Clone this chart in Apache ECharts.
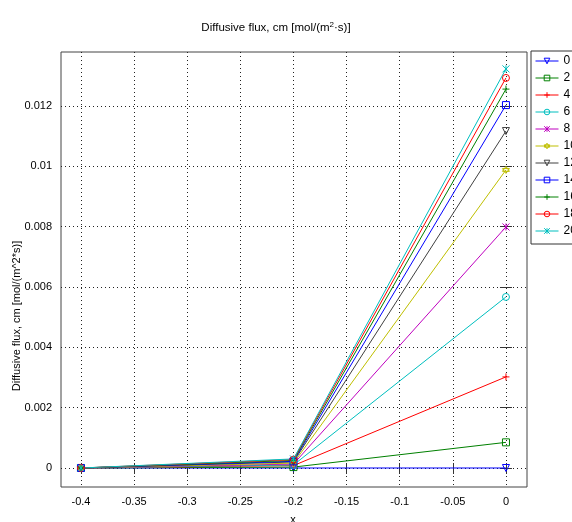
<!DOCTYPE html>
<html><head><meta charset="utf-8">
<script src="https://cdn.jsdelivr.net/npm/echarts@6/dist/echarts.min.js"></script>
<style>html,body{margin:0;padding:0;background:#fff}#c{width:572px;height:522px}</style>
</head><body><div id="c"></div>
<script>
const xValues = [-0.4, -0.2, 0];
const seriesNames = ['0','2','4','6','8','10','12','14','16','18','20'];
const valuesAtMinus04 = [0,0,0,0,0,0,0,0,0,0,0];
const valuesAtMinus02 = [0, 0.00003, 0.00008, 0.0001, 0.00013, 0.00016, 0.0002, 0.00022, 0.00025, 0.00028, 0.0003];
const valuesAt0 = [0, 0.00085, 0.00302, 0.00567, 0.00799, 0.00988, 0.01117, 0.01203, 0.01256, 0.01293, 0.01323];
const xTicks = [-0.4,-0.35,-0.3,-0.25,-0.2,-0.15,-0.1,-0.05,0];
const yTicks = [0,0.002,0.004,0.006,0.008,0.01,0.012];

const colors = ['#0000ff','#008000','#ff0000','#00bfbf','#bf00bf','#bfbf00','#404040','#0000ff','#008000','#ff0000','#00bfbf'];
const TRI = 'path://M0,0L10,0L5,9Z';
const RECT = 'path://M0,0L10,0L10,10L0,10Z';
const CIRC = 'path://M10,5A5,5,0,1,1,0,5A5,5,0,1,1,10,5Z';
const PLUS = 'path://M5,0L5,10M0,5L10,5';
const STAR = 'path://M0,0L10,10M0,10L10,0M5,0L5,10';
const HEX = 'path://M5,0L9,7L1,7ZM5,10L1,3L9,3Z';
const symbols = [TRI, RECT, PLUS, CIRC, STAR, HEX, TRI, RECT, PLUS, CIRC, STAR];
const FONT = 'Liberation Sans';
const chart = echarts.init(document.getElementById('c'));
const series = seriesNames.map((n,i)=>({
  name: n, type: 'line',
  data: [[xValues[0], valuesAtMinus04[i]],[xValues[1], valuesAtMinus02[i]],[xValues[2], valuesAt0[i]]],
  symbol: symbols[i], symbolSize: 7,
  showAllSymbol: true,
  lineStyle: {color: colors[i], width: 1},
  itemStyle: {color: 'none', borderColor: colors[i], borderWidth: 1},
  emphasis: {disabled: true},
  z: 3
}));
const option = {
  animation: false,
  color: colors,
  textStyle: {fontFamily: FONT},
  title: {
    text: 'Diffusive flux, cm [mol/(m{sup|2}·s)]',
    left: 271, top: 16, textAlign: 'center',
    textStyle: {fontSize: 11.5, fontWeight: 'normal', color: '#000', fontFamily: FONT,
      rich: {sup: {fontSize: 8, verticalAlign: 'bottom', padding: [0,0,6,0], color:'#000', fontFamily: FONT}}}
  },
  legend: {
    orient: 'vertical', left: 531, top: 51,
    itemWidth: 23, itemHeight: 7, itemGap: 5,
    padding: [4, 40, 7, 4],
    backgroundColor: '#fff', borderColor: '#333', borderWidth: 1,
    lineStyle: {width: 1},
    itemStyle: {borderWidth: 1},
    textStyle: {fontSize: 12, lineHeight: 12, color: '#000', fontFamily: FONT},
    data: seriesNames
  },
  grid: {left: 61, right: 45, top: 52, bottom: 35, show: true, borderColor: '#444', borderWidth: 1, backgroundColor: '#fff'},
  xAxis: [{
    type: 'value', min: -0.4188, max: 0.0198,
    axisLine: {show: false},
    axisTick: {inside: true, length: 5, lineStyle: {color: '#333'}, customValues: xTicks},
    axisLabel: {customValues: xTicks, color: '#000', fontSize: 11, fontFamily: FONT, margin: 9},
    splitLine: {show: true, lineStyle: {type: [1,3], color: '#222'}}
  },{
    type: 'value', min: -0.4188, max: 0.0198, position: 'top',
    axisLine: {show: false},
    axisTick: {inside: true, length: 6, lineStyle: {color: '#333'}, customValues: xTicks},
    axisLabel: {show: false, customValues: xTicks},
    splitLine: {show: false}
  }],
  yAxis: [{
    type: 'value', min: -0.00063, max: 0.01379,
    axisLine: {show: false},
    axisTick: {inside: true, length: 6, lineStyle: {color: '#333'}, customValues: yTicks},
    axisLabel: {customValues: yTicks, color: '#000', fontSize: 11, fontFamily: FONT, margin: 9},
    splitLine: {show: true, lineStyle: {type: [1,3], color: '#222'}}
  },{
    type: 'value', min: -0.00063, max: 0.01379, position: 'right',
    axisLine: {show: false},
    axisTick: {inside: true, length: 6, lineStyle: {color: '#333'}, customValues: yTicks},
    axisLabel: {show: false, customValues: yTicks},
    splitLine: {show: false}
  }],
  graphic: [
    {type: 'text', x: 17, y: 316, rotation: Math.PI/2,
     style: {text: 'Diffusive flux, cm [mol/(m^2*s)]', fontSize: 11, fontFamily: FONT, fill: '#000', align: 'center', verticalAlign: 'middle'}},
    {type: 'text', x: 293, y: 520,
     style: {text: 'x', fontSize: 11, fontFamily: FONT, fill: '#000', align: 'center', verticalAlign: 'middle'}}
  ],
  series: series
};
chart.setOption(option);
</script></body></html>
